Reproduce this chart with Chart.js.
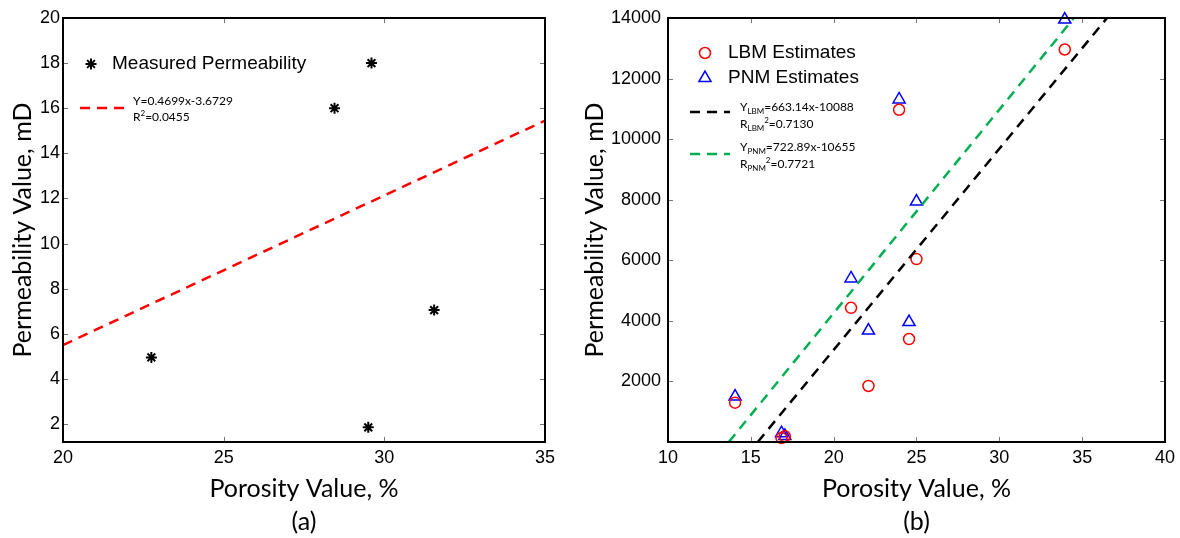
<!DOCTYPE html>
<html>
<head>
<meta charset="utf-8">
<script src="https://cdn.jsdelivr.net/npm/chart.js@4.4.0/dist/chart.umd.min.js"></script>
<style>
  body { margin: 0; background: #fff; width: 1180px; height: 538px; position: relative; overflow: hidden; }
  #left { position: absolute; left: 0; top: 0; }
  #right { position: absolute; left: 575px; top: 0; }
</style>
</head>
<body>
<canvas id="left" width="575" height="538"></canvas>
<canvas id="right" width="605" height="538"></canvas>
<script>
// (a) measured permeability vs porosity
const measPorosity = [22.75, 28.45, 29.6, 31.55, 29.5];
const measPerm = [4.95, 16.0, 18.0, 7.05, 1.85];
const fitAX = [20, 35];
const fitAY = [5.5, 15.45];
const xTicksA = [20, 25, 30, 35];
const yTicksA = [2, 4, 6, 8, 10, 12, 14, 16, 18, 20];

// (b) LBM / PNM estimates vs porosity
const estPorosity = [14.05, 16.85, 17.05, 21.05, 22.1, 23.95, 24.55, 25.0, 33.95];
const lbmPerm = [1300, 130, 190, 4430, 1850, 10970, 3400, 6040, 12960];
const pnmPerm = [1500, 290, 200, 5400, 3680, 11310, 3960, 7940, 13950];
const fitLbmX = [15.42, 36.5];
const fitLbmY = [0, 14000];
const fitPnmX = [13.67, 34.5];
const fitPnmY = [0, 14000];
const xTicksB = [10, 15, 20, 25, 30, 35, 40];
const yTicksB = [2000, 4000, 6000, 8000, 10000, 12000, 14000];

const pts = (xs, ys) => xs.map((x, i) => ({ x: x, y: ys[i] }));
const tickFont = { family: 'Liberation Sans, Arial', size: 18 };

// box around the plot + short inward ticks on all four sides
const framePlugin = {
  id: 'frame',
  afterDraw(chart) {
    const { ctx, chartArea: a, scales } = chart;
    ctx.save();
    ctx.strokeStyle = '#777';
    ctx.lineWidth = 1;
    ctx.beginPath();
    scales.x.ticks.forEach((t) => {
      const px = Math.round(scales.x.getPixelForValue(t.value)) + 0.5;
      ctx.moveTo(px, a.bottom); ctx.lineTo(px, a.bottom - 5);
      ctx.moveTo(px, a.top); ctx.lineTo(px, a.top + 5);
    });
    scales.y.ticks.forEach((t) => {
      const py = Math.round(scales.y.getPixelForValue(t.value)) + 0.5;
      ctx.moveTo(a.left, py); ctx.lineTo(a.left + 5, py);
      ctx.moveTo(a.right, py); ctx.lineTo(a.right - 5, py);
    });
    ctx.stroke();
    ctx.strokeStyle = '#000';
    ctx.lineWidth = 2;
    ctx.strokeRect(a.left, a.top, a.width, a.height);
    ctx.restore();
  },
};

// text with sub/superscripts
const drawRich = (ctx, x, y, parts) => {
  let cx = x;
  parts.forEach(([s, k]) => {
    const size = k ? 8 : 12;
    ctx.font = `${size}px Lato`;
    const dy = k === 'sub' ? 4 : k === 'sup' ? -4 : 0;
    ctx.fillText(s, cx, y + dy);
    cx += ctx.measureText(s).width;
  });
};

const innerLegend = {
  id: 'innerLegend',
  afterDraw(chart, args, opts) {
    const ctx = chart.ctx;
    ctx.save();
    ctx.textBaseline = 'middle';
    ctx.textAlign = 'left';
    (opts.items || []).forEach((it) => {
      if (it.type === 'point') {
        ctx.strokeStyle = it.color;
        ctx.fillStyle = 'rgba(0,0,0,0)';
        Chart.helpers.drawPoint(ctx, { pointStyle: it.style, radius: it.radius, borderWidth: it.width, rotation: 0 }, it.x, it.y);
      } else if (it.type === 'dash') {
        ctx.strokeStyle = it.color;
        ctx.lineWidth = 2.5;
        ctx.setLineDash([10, 7]);
        ctx.beginPath();
        ctx.moveTo(it.x1, it.y);
        ctx.lineTo(it.x2, it.y);
        ctx.stroke();
        ctx.setLineDash([]);
      } else if (it.type === 'label') {
        ctx.fillStyle = '#000';
        ctx.font = '19px Liberation Sans, Arial';
        ctx.fillText(it.text, it.x, it.y);
      } else {
        ctx.fillStyle = '#000';
        drawRich(ctx, it.x, it.y, it.parts);
      }
    });
    ctx.restore();
  },
};

const makeScales = (xmin, xmax, xt, ymin, ymax, yt, yWidth, yTitlePad, yTickPad, caption) => ({
  x: {
    type: 'linear', min: xmin, max: xmax,
    afterBuildTicks: (s) => { s.ticks = xt.map((v) => ({ value: v })); },
    afterFit: (s) => { s.height = 96; },
    grid: { display: false, drawTicks: false },
    border: { display: false },
    ticks: { color: '#000', font: tickFont, padding: 5, maxRotation: 0, callback: (v) => String(v) },
    title: { display: true, text: ['Porosity Value, %', caption], color: '#000', font: { family: 'Lato', size: 25, lineHeight: '33px' }, padding: { top: 0, bottom: 0 } },
  },
  y: {
    type: 'linear', min: ymin, max: ymax,
    afterBuildTicks: (s) => { s.ticks = yt.map((v) => ({ value: v })); },
    afterFit: (s) => { s.width = yWidth; },
    grid: { display: false, drawTicks: false },
    border: { display: false },
    ticks: { color: '#000', font: tickFont, padding: yTickPad, callback: (v) => String(v) },
    title: { display: true, text: 'Permeability Value, mD', color: '#000', font: { family: 'Lato', size: 25 }, padding: { top: yTitlePad, bottom: 0 } },
  },
});

const baseOptions = {
  responsive: false,
  animation: false,
  devicePixelRatio: 1,
  events: [],
};

new Chart(document.querySelector('#left'), {
  type: 'scatter',
  data: {
    datasets: [
      { data: pts(fitAX, fitAY), showLine: true, borderColor: '#ff0000', borderWidth: 2.5, borderDash: [10, 7], pointRadius: 0 },
      { data: pts(measPorosity, measPerm), pointStyle: 'star', pointRadius: 5.5, borderColor: '#000', backgroundColor: '#000', borderWidth: 2, clip: false },
    ],
  },
  options: {
    ...baseOptions,
    layout: { padding: { left: 0, right: 30, top: 18, bottom: 0 } },
    scales: makeScales(20, 35, xTicksA, 1.2, 20, yTicksA, 63, 8, 3, '(a)'),
    plugins: {
      legend: { display: false },
      tooltip: { enabled: false },
      innerLegend: {
        items: [
          { type: 'point', style: 'star', color: '#000', radius: 5.5, width: 2, x: 91, y: 64 },
          { type: 'label', text: 'Measured Permeability', x: 112, y: 64 },
          { type: 'dash', color: '#ff0000', x1: 80, x2: 125, y: 108 },
          { type: 'rich', x: 133, y: 101, parts: [['Y=0.4699x-3.6729', '']] },
          { type: 'rich', x: 133, y: 117, parts: [['R', ''], ['2', 'sup'], ['=0.0455', '']] },
        ],
      },
    },
  },
  plugins: [framePlugin, innerLegend],
});

new Chart(document.querySelector('#right'), {
  type: 'scatter',
  data: {
    datasets: [
      { data: pts(fitLbmX, fitLbmY), showLine: true, borderColor: '#000', borderWidth: 2.5, borderDash: [10, 7], pointRadius: 0 },
      { data: pts(fitPnmX, fitPnmY), showLine: true, borderColor: '#00b050', borderWidth: 2.5, borderDash: [10, 7], pointRadius: 0 },
      { data: pts(estPorosity, lbmPerm), pointStyle: 'circle', pointRadius: 5.5, borderColor: '#ff0000', backgroundColor: 'rgba(0,0,0,0)', borderWidth: 1.5, clip: false },
      { data: pts(estPorosity, pnmPerm), pointStyle: 'triangle', pointRadius: 7, borderColor: '#0000ff', backgroundColor: 'rgba(0,0,0,0)', borderWidth: 1.5, clip: false },
    ],
  },
  options: {
    ...baseOptions,
    layout: { padding: { left: 0, right: 14, top: 18, bottom: 0 } },
    scales: makeScales(10, 40, xTicksB, 0, 14000, yTicksB, 93, 5, 7, '(b)'),
    plugins: {
      legend: { display: false },
      tooltip: { enabled: false },
      innerLegend: {
        items: [
          { type: 'point', style: 'circle', color: '#ff0000', radius: 5.5, width: 1.5, x: 130, y: 53 },
          { type: 'label', text: 'LBM Estimates', x: 153, y: 53 },
          { type: 'point', style: 'triangle', color: '#0000ff', radius: 7, width: 1.5, x: 130, y: 78 },
          { type: 'label', text: 'PNM Estimates', x: 153, y: 78 },
          { type: 'dash', color: '#000', x1: 115, x2: 155, y: 112 },
          { type: 'rich', x: 165, y: 107, parts: [['Y', ''], ['LBM', 'sub'], ['=663.14x-10088', '']] },
          { type: 'rich', x: 165, y: 124, parts: [['R', ''], ['LBM', 'sub'], ['2', 'sup'], ['=0.7130', '']] },
          { type: 'dash', color: '#00b050', x1: 115, x2: 155, y: 154 },
          { type: 'rich', x: 165, y: 147, parts: [['Y', ''], ['PNM', 'sub'], ['=722.89x-10655', '']] },
          { type: 'rich', x: 165, y: 164, parts: [['R', ''], ['PNM', 'sub'], ['2', 'sup'], ['=0.7721', '']] },
        ],
      },
    },
  },
  plugins: [framePlugin, innerLegend],
});
</script>
</body>
</html>
